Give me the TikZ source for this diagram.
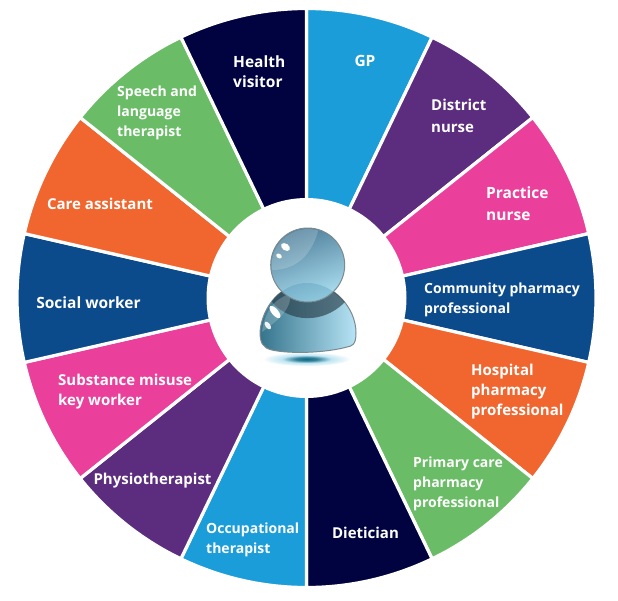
\documentclass[tikz,border=0pt]{standalone}
\usepackage{fontspec}
\setmainfont{Open Sans}
\definecolor{cblue}{HTML}{1B9DD9}
\definecolor{cpurple}{HTML}{5C2D7E}
\definecolor{cpink}{HTML}{EA3F9B}
\definecolor{cdark}{HTML}{0B4A8B}
\definecolor{corange}{HTML}{F1652E}
\definecolor{cgreen}{HTML}{6ABD66}
\definecolor{cnavy}{HTML}{00033F}
\definecolor{bodyL}{HTML}{35748C}
\definecolor{bodyM}{HTML}{7FB2C8}
\definecolor{bodyR}{HTML}{B7E4F5}
\definecolor{headT}{HTML}{4F7F9B}
\definecolor{headB}{HTML}{ACDFF1}
\definecolor{rimc}{HTML}{7B8A90}
\definecolor{shadeD}{HTML}{0F6A88}
\definecolor{shadeL}{HTML}{BFE6F2}
\pgfdeclareradialshading{floorshade}{\pgfpoint{0bp}{0bp}}{color(0bp)=(shadeD); color(6bp)=(shadeD!85!white); color(14bp)=(shadeL); color(21bp)=(shadeL!40!white); color(25bp)=(white); color(50bp)=(white)}
\newcommand{\bodypath}{(260,332) .. controls (262,306) and (282,283) .. (307,283) .. controls (334,283) and (356,308) .. (356,333)
  .. controls (356,345) and (352,346) .. (347,347) .. controls (325,353) and (290,354) .. (272,350)
  .. controls (263,348) and (260,343) .. (260,332) -- cycle}
\tikzset{
  wedge/.style={draw=white,line width=3.2pt,line join=miter},
  lab/.style={text=white,font=\bfseries\fontsize{#1}{20}\selectfont,inner sep=0pt,align=left,anchor=west},
  labc/.style={lab=#1,anchor=center,align=center},
}
\begin{document}
\begin{tikzpicture}[x=1pt,y=-1pt]
\useasboundingbox (0,0) rectangle (618,600);
\fill[white] (0,0) rectangle (618,600);
\coordinate (c) at (306.5,298);
\foreach \i/\col in {0/cblue,1/cpurple,2/cpink,3/cdark,4/corange,5/cgreen,6/cnavy,7/cblue,8/cpurple,9/cpink,10/cdark,11/corange,12/cgreen,13/cnavy}{
  \pgfmathsetmacro\aone{-90+\i*360/14}
  \pgfmathsetmacro\atwo{-90+(\i+1)*360/14}
  \filldraw[wedge,fill=\col] (c) -- ++(\aone:289.5) arc[start angle=\aone,end angle=\atwo,radius=289.5] -- cycle;
}
\node[circle,fill=white,minimum size=200pt,inner sep=0pt] (hub) at (c) {};
% floor shadow
\shade[shading=floorshade] (306.5,359) ellipse [x radius=44,y radius=7];
% body
\shade[left color=bodyL,middle color=bodyM,right color=bodyR,draw=rimc,line width=1pt] \bodypath;
\begin{scope}
  \clip \bodypath;
  \fill[black!60!headT,opacity=.6] (268,296) .. controls (285,325) and (328,326) .. (350,296) -- (345,278) -- (275,278) -- cycle;
  \fill[white,opacity=.2] (262,332) .. controls (264,312) and (275,298) .. (290,294) .. controls (292,306) and (282,318) .. (262,332) -- cycle;
\end{scope}
% head
\shade[top color=headT,bottom color=headB,shading angle=20,draw=rimc,line width=1pt] (307.7,265) circle [radius=37];
\begin{scope}
  \clip (307.7,265) circle [radius=36.5];
  \fill[cyan!30!teal,opacity=.28] \bodypath;
\end{scope}
\fill[white,opacity=.18] (307.7,265) ++(172:36) arc[start angle=172,end angle=287,radius=36] .. controls (313,250) and (300,270) .. (272,270) -- cycle;
\fill[white,rotate around={-35:(285.5,247)}] (285.5,247) ellipse [x radius=5,y radius=3.3];
\fill[white,rotate around={-35:(279,256)}] (279,256) ellipse [x radius=3,y radius=2.2];
\fill[white,rotate around={-50:(275,312)}] (275,312) ellipse [x radius=7.5,y radius=3.3];
\fill[white,opacity=.9,rotate around={-55:(267.8,325.5)}] (267.8,325.5) ellipse [x radius=4.5,y radius=2.4];
% labels
\node[labc=15.5] (gp) at (365,61) {GP};
\node[lab=15] (district) at (431,116) {District\\[2pt]nurse};
\node[lab=15.5] (practice) at (486,204) {Practice\\[2pt]nurse};
\node[lab=14] (community) at (424,299.5) {Community pharmacy\\professional};
\node[lab=15] (hospital) at (471,391.5) {Hospital\\pharmacy\\professional};
\node[lab=14] (primary) at (413,484) {Primary care\\pharmacy\\professional};
\node[labc=15] (dietician) at (365.5,533) {Dietician};
\node[lab=14] (occ) at (206,539.5) {Occupational\\therapist};
\node[labc=15] (physio) at (152.5,481) {Physiotherapist};
\node[lab=15] (substance) at (58,391.5) {Substance misuse\\key worker};
\node[labc=15.5] (social) at (88.5,303) {Social worker};
\node[labc=15] (care) at (100,204) {Care assistant};
\node[lab=14] (speech) at (117,113) {Speech and\\language\\therapist};
\node[lab=15.5] (health) at (233,72) {Health\\visitor};
\end{tikzpicture}
\end{document}
